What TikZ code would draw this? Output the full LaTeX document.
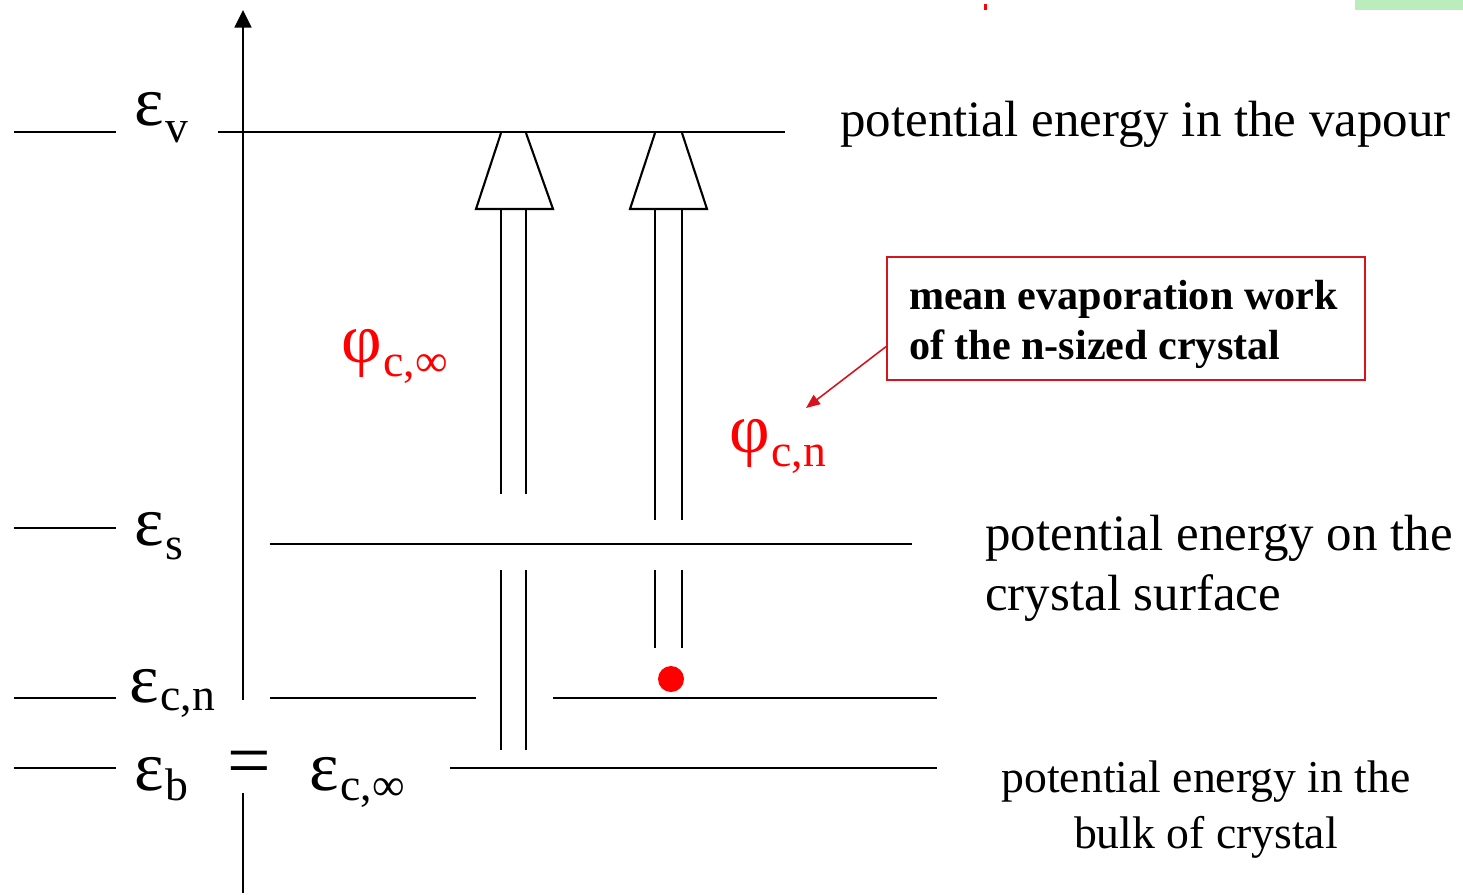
\documentclass[tikz,border=0pt]{standalone}
\usepackage{fontspec}
\setmainfont{Liberation Serif}
\usetikzlibrary{arrows.meta}
\definecolor{notered}{RGB}{215,20,30}
\definecolor{markgreen}{RGB}{187,236,188}
\newcommand{\symb}[3]{{\fontsize{40}{40}\selectfont #1}\raisebox{-#3}{\fontsize{26}{26}\selectfont\kern1pt #2}}

\begin{document}
\begin{tikzpicture}[x=0.02cm,y=-0.02cm,level/.style={line width=1.2pt},lab/.style={inner sep=0pt,anchor=base west},txt/.style={inner sep=0pt,font=\fontsize{29}{34}\selectfont},shaft/.style={line width=1.2pt}]
\useasboundingbox (0,0) rectangle (1463,894);
% stray marks at the top
\fill[markgreen] (1355,0) rectangle (1463,10);
\fill[red] (984,4) rectangle (987,10);
% energy axis
\draw[level,-{Triangle[length=10pt,width=9.6pt]}] (243,700) -- (243,10);
\draw[level] (243,893) -- (243,793);
% short levels at the left
\draw[level] (14,132) -- (116,132);
\draw[level] (14,528) -- (116,528);
\draw[level] (14,698) -- (116,698);
\draw[level] (14,768) -- (116,768);
% levels
\draw[level] (218,132) -- (785,132);
\draw[level] (270,544) -- (912,544);
\draw[level] (270,698) -- (476,698);
\draw[level] (553,698) -- (937,698);
\draw[level] (450,768) -- (937,768);
% hollow arrows
\draw[shaft] (501,133) -- (476,209) -- (553,209) -- (526,133);
\draw[shaft] (501,209) -- (501,494);
\draw[shaft] (526,209) -- (526,494);
\draw[shaft] (501,570) -- (501,750);
\draw[shaft] (526,570) -- (526,750);
\draw[shaft] (655,133) -- (630,209) -- (707,209) -- (682,133);
\draw[shaft] (655,209) -- (655,520);
\draw[shaft] (682,209) -- (682,520);
\draw[shaft] (655,570) -- (655,648);
\draw[shaft] (682,570) -- (682,648);
\fill[red] (671,679) circle (13);
% level labels
\node[lab] (epsv) at (134,125) {\symb{ε}{v}{10pt}};
\node[lab] (epss) at (134,545) {\symb{ε}{s}{8pt}};
\node[lab] (epscn) at (129,702) {\symb{ε}{c,n}{5pt}};
\node[lab] (epsb) at (134,790) {\symb{ε}{b}{6pt}};
\node[inner sep=0pt,anchor=base,font=\fontsize{44}{44}\selectfont] (eq) at (249,786) {=};
\node[lab] (epsci) at (309,790) {\symb{ε}{c,∞}{6pt}};
\node[lab,red] (phici) at (341,362) {\symb{φ}{c,∞}{8pt}};
\node[lab,red] (phicn) at (729,452) {\symb{φ}{c,n}{8pt}};
% descriptions
\node[txt,anchor=base west] (vapour) at (840,136) {potential energy in the vapour};
\node[txt,anchor=north west,align=left] (surface) at (985,515) {potential energy on the\\crystal surface};
\node[txt,anchor=north,align=center,font=\fontsize{26}{32}\selectfont] (bulk) at (1206,760) {potential energy in the\\bulk of crystal};
\node[draw=notered,line width=1.2pt,minimum width=272pt,minimum height=69.7pt,inner sep=0pt] (note) at (1126,318.5) {};
\node[inner sep=0pt,align=left,font=\fontsize{24}{28.5}\selectfont\bfseries] (notetext) at ([yshift=-3.5pt,xshift=-1.5pt]note.center) {mean evaporation work\\of the n-sized crystal};
\coordinate (phitip) at (806,408);
\draw[notered,line width=0.9pt,-{Triangle[length=8pt,width=6.5pt]}] ([yshift=-16pt]note.west) -- (phitip);
\end{tikzpicture}
\end{document}
